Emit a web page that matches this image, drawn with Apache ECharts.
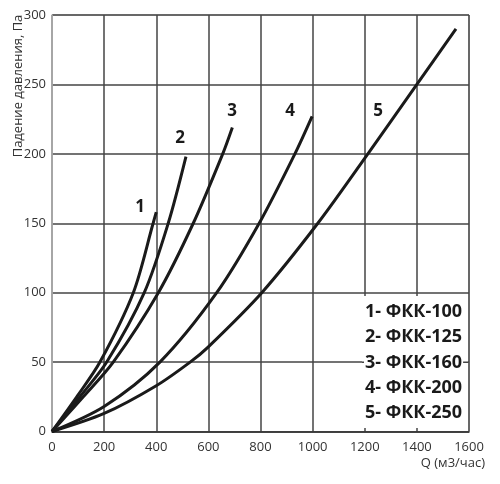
<!DOCTYPE html>
<html><head><meta charset="utf-8">
<script src="https://cdn.jsdelivr.net/npm/echarts@6/dist/echarts.min.js"></script>
<style>html,body{margin:0;padding:0;background:#fff}#c{width:500px;height:484px}</style>
</head><body><div id="c"></div>
<script>
// Flow Q (m3/h) vs pressure drop (Pa)
const curve1 = [[0,0],[95,25],[184,50],[312,100],[388,150],[400,158]];
const curve2 = [[0,0],[107,25],[210,50],[354,100],[446,150],[514,198]];
const curve3 = [[0,0],[120,25],[235,50],[408,100],[542,150],[655,200],[692,219]];
const curve4 = [[0,0],[200,18],[414,50],[632,100],[795,150],[932,200],[998,227]];
const curve5 = [[0,0],[200,13],[400,33],[530,50],[600,61],[805,100],[1020,150],[1212,200],[1400,250],[1550,290]];
const curveNames = ['1','2','3','4','5'];
const legendLines = ['1- ФКК-100','2- ФКК-125','3- ФКК-160','4- ФКК-200','5- ФКК-250'];
const xTicks = [0,200,400,600,800,1000,1200,1400,1600];
const yTicks = [0,50,100,150,200,250,300];

const chart = echarts.init(document.getElementById('c'));
const F = '"Open Sans", "Noto Sans", sans-serif';
const curves = [curve1,curve2,curve3,curve4,curve5];
const series = curves.map((d,i)=>({
  type:'line', name:curveNames[i], data:d, smooth:0.3, showSymbol:false, symbol:'none',
  lineStyle:{color:'#1a1a1a', width:3}, z:3, silent:true
}));
const labelPos = [[140,207],[180,138],[232,111],[290,111],[378,111]];
const graphics = [
  {type:'text', x:18, y:86, rotation:Math.PI/2, style:{text:'Падение давления, Па', font:'13px '+F, fill:'#333', textAlign:'center', textVerticalAlign:'middle'}},
  {type:'text', x:485, y:463, style:{text:'Q (м3/час)', font:'13px '+F, fill:'#333', textAlign:'right', textVerticalAlign:'middle'}},
  {type:'rect', shape:{x:362, y:296, width:106, height:132}, style:{fill:'#fff'}, z:10},
  {type:'line', shape:{x1:362, y1:362.3, x2:468, y2:362.3}, style:{stroke:'#444', lineWidth:1.5}, z:11},
];
labelPos.forEach((p,i)=>graphics.push({type:'text', x:p[0], y:p[1], z:12,
  style:{text:curveNames[i], font:'bold 17px '+F, fill:'#1a1a1a', textAlign:'center', textVerticalAlign:'middle'}}));
legendLines.forEach((t,i)=>graphics.push({type:'text', x:364, y:312+i*25.3, z:12,
  style:{text:t, font:'bold 18px '+F, fill:'#1a1a1a', textAlign:'left', textVerticalAlign:'middle', backgroundColor:'#fff', padding:[0,1,0,1]}}));

chart.setOption({
  animation:false,
  grid:{left:52, right:31, top:15, bottom:52.5, show:true, borderColor:'#aaa', borderWidth:1},
  xAxis:{type:'value', min:xTicks[0], max:xTicks[xTicks.length-1], interval:200,
    axisLine:{show:true, lineStyle:{color:'#333', width:1.5}}, axisTick:{show:false},
    axisLabel:{color:'#333', fontSize:13, fontFamily:F, margin:9, formatter:v=>String(v)},
    splitLine:{show:true, lineStyle:{color:'#444', width:1.5}}},
  yAxis:{type:'value', min:yTicks[0], max:yTicks[yTicks.length-1], interval:50,
    axisLine:{show:true, lineStyle:{color:'#bbb', width:1.5}}, axisTick:{show:false},
    axisLabel:{color:'#333', fontSize:13, fontFamily:F, margin:6, formatter:v=>String(v)},
    splitLine:{show:true, lineStyle:{color:'#444', width:1.5}}},
  series:series,
  graphic:graphics
});
</script></body></html>
